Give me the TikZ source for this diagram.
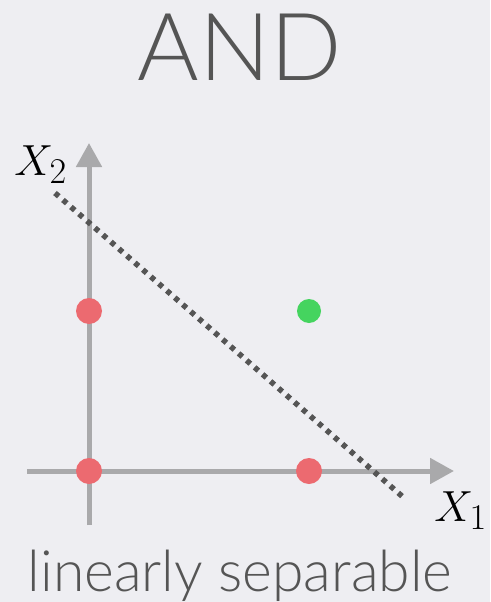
\documentclass[tikz,border=0pt]{standalone}
\usepackage{fontspec}
\setmainfont{Lato}[UprightFont=* Light]
\usetikzlibrary{arrows.meta}
\definecolor{bg}{HTML}{EEEEF2}
\definecolor{axis}{HTML}{A9A9AB}
\definecolor{txt}{HTML}{555555}
\definecolor{redpt}{HTML}{EC6A70}
\definecolor{greenpt}{HTML}{45D45F}
\tikzset{
  axisline/.style={draw=axis, line width=5pt, -{Triangle[length=24pt,width=25pt]}},
  sepline/.style={draw=txt, line width=5.5pt, dash pattern=on 5pt off 5.6pt},
  redptst/.style={circle, fill=redpt, minimum size=26pt, inner sep=0pt},
  greenptst/.style={circle, fill=greenpt, minimum size=24pt, inner sep=0pt},
  lbl/.style={inner sep=0pt, text=black, scale=1.75}
}
\begin{document}
\begin{tikzpicture}[x=1pt,y=-1pt]
\fill[bg] (0,0) rectangle (490,602);
\useasboundingbox (0,0) rectangle (490,602);
\node[text=txt, inner sep=0pt, anchor=base] (title) at (240,80) {\fontsize{94}{94}\selectfont AND};
\coordinate (yb) at (89,525);
\coordinate (yt) at (89,143);
\coordinate (xl) at (27,471);
\coordinate (xr) at (454,471);
\draw[axisline] (yb) -- (yt);
\draw[axisline] (xl) -- (xr);
\coordinate (s1) at (55,193);
\coordinate (s2) at (403,497);
\draw[sepline] (s1) -- (s2);
\node[redptst] (p00) at (89,471) {};
\node[redptst] (p01) at (89,311) {};
\node[redptst] (p10) at (309,471) {};
\node[greenptst] (p11) at (309,311) {};
\node[lbl, anchor=base west] (x2) at (14,175) {\Huge$X_2$};
\node[lbl, anchor=base west] (x1) at (434,521) {\Huge$X_1$};
\node[text=txt, inner sep=0pt, anchor=base] (cap) at (240,591) {\fontsize{57}{57}\selectfont linearly separable};
\end{tikzpicture}
\end{document}
